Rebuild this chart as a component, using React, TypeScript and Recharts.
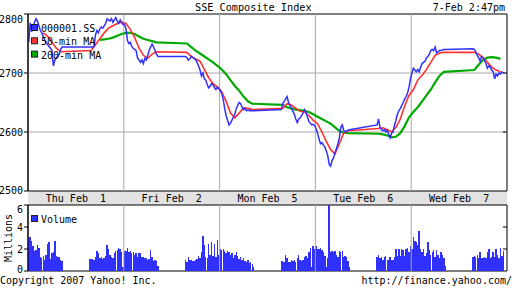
import React from 'react';
import { ComposedChart, Line, Bar, XAxis, YAxis, ReferenceLine, ReferenceArea } from 'recharts';

const MONO = '"DejaVu Sans Mono", monospace';
const BLUE = '#3030ff';
const RED = '#ff3030';
const GREEN = '#00aa00';
const GRID = '#a8a8a8';

const days = ['Thu Feb  1', 'Fri Feb  2', 'Mon Feb  5', 'Tue Feb  6', 'Wed Feb  7'];
const priceTicks = [2500, 2600, 2700, 2800];
const volumeTicks = [0, 2, 4, 6];

// 5-min closes: 24 morning slots (9:30-11:30) then afternoon slots (13:00-15:00)
const priceThu = [
  2752, 2785, 2770, 2778, 2786, 2792, 2788, 2780, 2772, 2768, 2762, 2756, 2752, 2748, 2745, 2742, 2738, 2712, 2722, 2726, 2728, 2732, 2740, 2744,
  2744, 2744, 2744, 2745, 2765, 2772, 2768, 2775, 2778, 2776, 2780, 2784, 2792, 2790, 2788, 2792, 2786, 2790, 2794, 2788, 2784, 2790, 2786, 2782,
];
const priceFri = [
  2782, 2775, 2755, 2750, 2752, 2745, 2742, 2740, 2738, 2725, 2722, 2718, 2722, 2716, 2725, 2722, 2730, 2738, 2744, 2749, 2744, 2738, 2732, 2728,
  2728, 2726, 2722, 2724, 2728, 2726, 2725, 2722, 2718, 2712, 2705, 2695, 2700, 2690, 2688, 2680, 2675, 2678, 2682, 2680, 2675, 2672, 2676, 2674,
];
const priceMon = [
  2670, 2665, 2655, 2640, 2628, 2620, 2612, 2615, 2620, 2625, 2630, 2640, 2645, 2650, 2648, 2642, 2638, 2640, 2636, 2637, 2636, 2636, 2636, 2636,
  2638, 2648, 2652, 2656, 2660, 2650, 2645, 2640, 2635, 2630, 2622, 2616, 2622, 2624, 2628, 2632, 2638, 2634, 2626, 2618, 2615, 2612, 2613, 2611,
];
const priceTue = [
  2605, 2598, 2588, 2580, 2582, 2578, 2575, 2568, 2560, 2545, 2542, 2552, 2556, 2565, 2572, 2580, 2590, 2608, 2612, 2603, 2600, 2602, 2603, 2604,
  2612, 2622, 2608, 2604, 2602, 2604, 2600, 2603, 2596, 2590, 2598, 2600, 2612, 2620, 2630, 2636, 2640, 2645, 2650, 2656, 2660, 2666, 2676, 2690,
];
const priceWed = [
  2700, 2708, 2705, 2702, 2706, 2702, 2710, 2716, 2718, 2720, 2726, 2728, 2732, 2738, 2740, 2738, 2744, 2734, 2736, 2738, 2738, 2739, 2740, 2740,
  2741, 2740, 2736, 2730, 2726, 2720, 2728, 2726, 2722, 2716, 2708, 2712, 2710, 2705, 2702, 2690, 2698, 2695, 2700, 2698, 2702, 2700,
];

// volume in millions, same slots
const volThu = [
  3.0, 3.1, 2.7, 2.3, 1.8, 1.9, 2.4, 2.1, 1.3, 1.2, 1.4, 1.0, 1.5, 2.5, 2.6, 1.1, 1.6, 1.7, 2.7, 1.4, 1.3, 1.3, 1.0, 0.9,
  1.1, 1.1, 1.1, 1.0, 1.3, 1.8, 1.6, 1.2, 1.3, 1.1, 1.2, 1.4, 2.4, 2.0, 1.5, 1.3, 1.2, 1.6, 1.8, 1.9, 2.1, 2.0, 1.7, 0.4,
];
const volFri = [
  1.8, 1.8, 2.1, 1.7, 1.8, 1.6, 1.7, 1.5, 1.6, 1.3, 1.6, 1.6, 1.3, 1.3, 1.2, 1.2, 1.0, 1.1, 1.9, 1.3, 0.9, 1.0, 0.9, 0.5,
  1.0, 0.8, 1.3, 1.0, 1.0, 0.9, 0.9, 1.0, 1.1, 1.4, 1.2, 1.7, 3.2, 2.4, 1.3, 1.2, 2.5, 1.5, 2.6, 1.4, 2.5, 1.3, 2.8, 1.5,
];
const volMon = [
  2.0, 1.9, 2.0, 1.8, 1.6, 1.8, 1.7, 1.5, 1.6, 1.2, 1.5, 1.7, 1.4, 1.1, 1.3, 1.0, 1.2, 0.9, 0.8, 1.0, 0.7, 0.8, 0.6, 0.4,
  0.9, 0.9, 0.8, 1.5, 1.2, 0.8, 0.8, 1.0, 0.9, 1.0, 0.8, 1.2, 1.5, 1.0, 0.9, 1.0, 1.3, 1.4, 1.2, 1.7, 2.1, 0.4, 2.3, 2.0,
];
const volTue = [
  2.3, 2.0, 2.0, 2.1, 1.9, 1.7, 1.4, 0.4, 1.2, 6.0, 1.7, 1.8, 1.7, 1.8, 1.5, 1.3, 1.8, 1.7, 1.8, 1.3, 1.4, 1.3, 0.9, 0.4,
  1.3, 1.5, 1.2, 1.3, 1.0, 1.3, 1.4, 1.0, 1.0, 1.3, 1.0, 1.0, 1.3, 2.0, 1.4, 2.0, 1.4, 2.0, 1.9, 1.4, 2.0, 2.1, 1.7, 2.3,
];
const volWed = [
  2.0, 3.1, 2.7, 2.6, 2.4, 3.6, 2.0, 1.7, 2.0, 1.4, 1.6, 2.6, 1.9, 1.5, 1.7, 1.9, 1.3, 1.9, 1.5, 1.2, 1.7, 1.5, 1.2, 0.5,
  1.3, 1.4, 1.3, 1.5, 1.2, 1.7, 1.2, 1.2, 1.3, 1.2, 1.7, 2.0, 1.2, 1.3, 1.7, 1.3, 2.0, 1.5, 1.2, 2.1, 1.4, 1.8,
];

// moving averages read every 15 min (8 per session)
const ma50Thu = [null, null, null, 2768, 2762, 2752, 2742, 2736, 2738, 2748, 2758, 2768, 2776, 2780, 2784, 2786];
const ma50Fri = [2784, 2774, 2760, 2742, 2730, 2725, 2732, 2736, 2735, 2728, 2724, 2720, 2706, 2692, 2682, 2676];
const ma50Mon = [2668, 2652, 2632, 2624, 2632, 2641, 2640, 2638, 2640, 2648, 2646, 2640, 2635, 2634, 2628, 2620];
const ma50Tue = [2614, 2600, 2584, 2570, 2563, 2580, 2598, 2602, 2606, 2607, 2604, 2600, 2608, 2622, 2644, 2662];
const ma50Wed = [2672, 2688, 2696, 2706, 2718, 2730, 2734, 2735, 2735, 2732, 2726, 2718, 2710, 2705, 2702];

const ma200Thu = [null, null, null, null, null, null, null, null, null, null, 2756, 2757, 2758, 2760, 2763, 2766];
const ma200Fri = [2768, 2768, 2766, 2762, 2758, 2756, 2754, 2752, 2750, 2744, 2738, 2733, 2728, 2723, 2718, 2712];
const ma200Mon = [2706, 2698, 2688, 2678, 2670, 2660, 2652, 2648, 2646, 2642, 2640, 2638, 2637, 2636, 2634, 2630];
const ma200Tue = [2626, 2622, 2618, 2614, 2608, 2602, 2599, 2598, 2597, 2596, 2594, 2591, 2592, 2598, 2610, 2625];
const ma200Wed = [2634, 2642, 2652, 2662, 2672, 2684, 2695, 2702, 2705, 2714, 2722, 2726, 2727, 2726, 2724];

const priceByDay = [priceThu, priceFri, priceMon, priceTue, priceWed];
const volByDay = [volThu, volFri, volMon, volTue, volWed];
const ma50ByDay = [ma50Thu, ma50Fri, ma50Mon, ma50Tue, ma50Wed];
const ma200ByDay = [ma200Thu, ma200Fri, ma200Mon, ma200Tue, ma200Wed];

// chart time: each day spans 9:30-15:00 (330 min) incl. the lunch break
const DAY = 330;
const slotTime = (d: number, s: number) => d * DAY + (s < 24 ? s * 5 : 210 + (s - 24) * 5) + 2.5;

const rows = priceByDay.flatMap((prices, d) =>
  prices.map((p, s) => {
    const j = (s - 1) / 3;
    const sampled = s % 3 === 1;
    return {
      t: slotTime(d, s),
      price: p,
      vol: volByDay[d][s],
      ma50: sampled ? ma50ByDay[d][j] ?? null : null,
      ma200: sampled ? ma200ByDay[d][j] ?? null : null,
    };
  })
);

const dayBounds = [DAY, DAY * 2, DAY * 3, DAY * 4];
const dayCenters = days.map((_, i) => i * DAY + DAY / 2);
const END = DAY * 5;

const legendItems = [
  { label: '000001.SS', color: BLUE },
  { label: '50-min MA', color: RED },
  { label: '200-min MA', color: GREEN },
];

const DayTick = (props: any) => {
  const idx = Math.round((props.payload.value - DAY / 2) / DAY);
  return (
    <text x={props.x} y={props.y - 3} textAnchor="middle" fontSize={10} fontFamily={MONO} fill="#000" style={{ whiteSpace: 'pre' }}>
      {days[idx]}
    </text>
  );
};

// edge labels are nudged inside the plot, like the original
const edgeTick = (lo: number, hi: number, shiftHi: number, shiftLo: number) => (props: any) => {
  const v = props.payload.value;
  const dy = v === hi ? shiftHi : v === lo ? shiftLo : 0;
  return (
    <text x={props.x} y={props.y + dy} dy="0.355em" textAnchor="end" fontSize={10} fontFamily={MONO} fill="#000">
      {v}
    </text>
  );
};

export default function App() {
  return (
    <div style={{ position: 'absolute', left: 0, top: 0, width: 512, height: 288, background: '#fff', overflow: 'hidden' }}>
      <div style={{ position: 'absolute', left: 28, top: 191, width: 479, height: 14, background: '#e2e2e2' }} />

      <div style={{ position: 'absolute', left: 0, top: 0 }}>
        <ComposedChart width={512} height={200} data={rows} margin={{ top: 14, right: 5, bottom: 9, left: 0 }}>
          <XAxis dataKey="t" type="number" domain={[0, END]} hide />
          <YAxis
            domain={[2500, 2800]}
            ticks={priceTicks}
            interval={0}
            width={28}
            tickSize={4}
            tickMargin={1}
            axisLine={{ stroke: '#000' }}
            tickLine={{ stroke: '#000' }}
            tick={edgeTick(2500, 2800, 5, -1)}
          />
          {[2600, 2700].map((v) => (
            <ReferenceLine key={v} y={v} stroke={GRID} />
          ))}
          {dayBounds.map((v) => (
            <ReferenceLine key={v} x={v} stroke={GRID} />
          ))}
          <Line dataKey="ma200" stroke={GREEN} strokeWidth={2.2} dot={false} connectNulls isAnimationActive={false} />
          <Line dataKey="ma50" stroke={RED} strokeWidth={1.6} dot={false} connectNulls isAnimationActive={false} />
          <Line dataKey="price" stroke={BLUE} strokeWidth={1.5} dot={false} isAnimationActive={false} />
          {[2600, 2700].map((v) => (
            <ReferenceLine key={'r' + v} segment={[{ x: END - 14, y: v }, { x: END, y: v }]} stroke="#000" />
          ))}
          <ReferenceArea x1={0} x2={END} y1={2500} y2={2800} fill="none" stroke="#000" />
        </ComposedChart>
      </div>

      <div style={{ position: 'absolute', left: 0, top: 191 }}>
        <ComposedChart width={512} height={92} data={rows} margin={{ top: 0, right: 5, bottom: 12, left: 0 }}>
          <XAxis
            dataKey="t"
            type="number"
            domain={[0, END]}
            orientation="top"
            height={14}
            ticks={dayCenters}
            interval={0}
            tickSize={0}
            tickMargin={0}
            tickLine={false}
            axisLine={false}
            tick={DayTick}
          />
          <YAxis
            domain={[0, 6]}
            ticks={volumeTicks}
            interval={0}
            width={28}
            tickSize={4}
            tickMargin={1}
            axisLine={{ stroke: '#000' }}
            tickLine={{ stroke: '#000' }}
            tick={edgeTick(0, 6, 4, -2)}
          />
          {dayBounds.map((v) => (
            <ReferenceLine key={v} x={v} stroke={GRID} />
          ))}
          <Bar dataKey="vol" fill={BLUE} barSize={1.4} shapeRendering="crispEdges" isAnimationActive={false} />
          {[2, 4].map((v) => (
            <ReferenceLine key={'r' + v} segment={[{ x: END - 14, y: v }, { x: END, y: v }]} stroke="#000" />
          ))}
          <ReferenceArea x1={0} x2={END} y1={0} y2={6} fill="none" stroke="#000" />
        </ComposedChart>
      </div>

      <svg width={512} height={288} style={{ position: 'absolute', left: 0, top: 0, pointerEvents: 'none' }} fontFamily={MONO} fontSize={10}>
        <text x={195} y={11} fontSize={10.2}>SSE Composite Index</text>
        <text x={505} y={11} textAnchor="end">7-Feb 2:47pm</text>
        {legendItems.map((it, i) => (
          <g key={it.label}>
            <rect x={31.5} y={24.5 + i * 13.3} width={6} height={6} fill={it.color} stroke="#222" />
            <text x={41} y={32 + i * 13.3}>{it.label}</text>
          </g>
        ))}
        <rect x={31.5} y={215.5} width={6} height={6} fill={BLUE} stroke="#222" />
        <text x={41} y={223}>Volume</text>
        <text x={12} y={238} textAnchor="middle" transform="rotate(-90 12 238)">Millions</text>
        <text x={0} y={284}>Copyright 2007 Yahoo! Inc.</text>
        <text x={512} y={284} textAnchor="end">http://finance.yahoo.com/</text>
      </svg>
    </div>
  );
}
